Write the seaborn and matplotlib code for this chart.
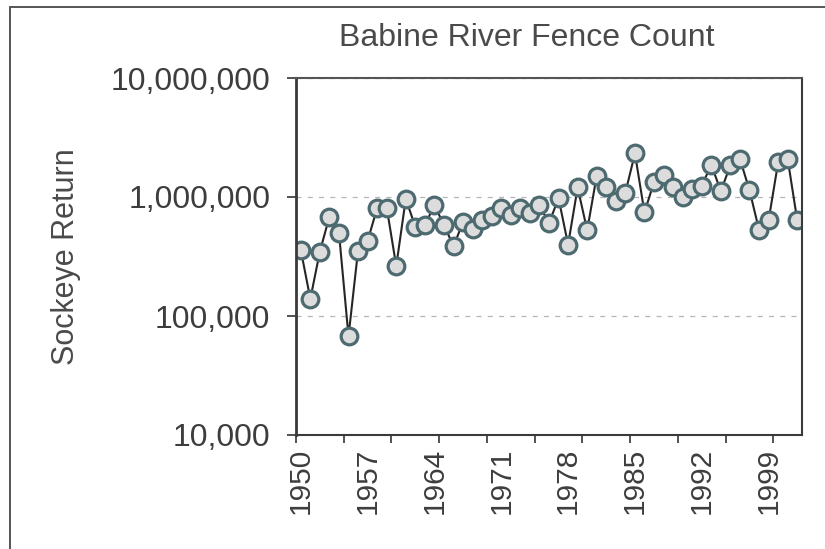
import matplotlib
matplotlib.use("Agg")
import matplotlib.pyplot as plt
import matplotlib.ticker as mticker
from matplotlib.lines import Line2D
import seaborn as sns
import pandas as pd

years = list(range(1950, 2003))
sockeye = [
    360000, 139000, 348000, 684000, 501000, 67500, 355000, 427000, 807000, 815000,
    263000, 966000, 562000, 583000, 851000, 583000, 385000, 617000, 537000, 638000,
    692000, 807000, 703000, 807000, 733000, 851000, 603000, 977000, 398000, 1202000,
    525000, 1514000, 1202000, 927000, 1086000, 2323000, 741000, 1337000, 1535000, 1202000,
    993000, 1164000, 1247000, 1862000, 1122000, 1849000, 2089000, 1140000, 530000, 636000,
    1950000, 2089000, 638000,
]
title = "Babine River Fence Count"
ylabel = "Sockeye Return"
ytick_values = [10000, 100000, 1000000, 10000000]
xlabel_years = list(range(1950, 2003, 7))

df = pd.DataFrame({"Year": years, "Return": sockeye})

sns.set_style("white")
plt.rcParams["font.family"] = ["Liberation Sans", "DejaVu Sans"]

W, H = 825, 549
fig = plt.figure(figsize=(W / 100, H / 100), dpi=100)
ax = fig.add_axes([296 / W, 1 - 435 / H, (802 - 296) / W, (435 - 78) / H])

sns.lineplot(
    data=df, x="Year", y="Return", ax=ax,
    color="#262626", linewidth=1.5,
    marker="o", markersize=12, markerfacecolor="#dcdcdc",
    markeredgecolor="#4d6a70", markeredgewidth=2.3,
)

ax.set_yscale("log")
ax.set_ylim(1e4, 1e7)
ax.set_xlim(1949.5, 2002.5)

ax.yaxis.set_major_locator(mticker.FixedLocator(ytick_values))
ax.yaxis.set_minor_locator(mticker.NullLocator())
ax.yaxis.set_major_formatter(mticker.FuncFormatter(lambda v, p: f"{int(round(v)):,}"))

ax.xaxis.set_major_locator(mticker.FixedLocator(xlabel_years))
ax.xaxis.set_major_formatter(mticker.FuncFormatter(lambda v, p: f"{int(round(v))}"))
ax.xaxis.set_minor_locator(mticker.MultipleLocator(5, offset=4.5))

ax.tick_params(axis="y", which="major", length=6.5, width=1.3, color="#444444",
               pad=12, labelsize=23, labelcolor="#3d3d3d", left=True)
ax.tick_params(axis="x", which="major", length=0, pad=9, labelsize=21.5,
               labelcolor="#3d3d3d", labelrotation=90, bottom=True)
ax.tick_params(axis="x", which="minor", length=6, width=1.3, color="#444444",
               bottom=True)

ax.grid(axis="y", which="major", linestyle=(0, (4, 5)), color="#b5b5b5", linewidth=0.9)
ax.grid(axis="x", visible=False)

for side, sp in ax.spines.items():
    sp.set_visible(True)
    sp.set_color("#3a3a3a")
    sp.set_linewidth(1.5)
ax.spines["left"].set_linewidth(2.0)
ax.spines["top"].set_color("#555555")

ax.set_xlabel("")
ax.set_ylabel(ylabel, fontsize=22, color="#4a4a4a")
ax.yaxis.set_label_coords(-0.425, 0.5)

fig.text(527 / W, 1 - 38 / H, title, ha="center", va="center",
         fontsize=23, color="#4a4a4a")

# outer chart border (left and top edges)
fig.add_artist(Line2D([10 / W, 10 / W], [0, 1 - 7 / H], transform=fig.transFigure,
                      color="#555555", linewidth=1.4))
fig.add_artist(Line2D([10 / W, 1], [1 - 7 / H, 1 - 7 / H], transform=fig.transFigure,
                      color="#555555", linewidth=1.4))

fig.savefig("out.png", dpi=100)
